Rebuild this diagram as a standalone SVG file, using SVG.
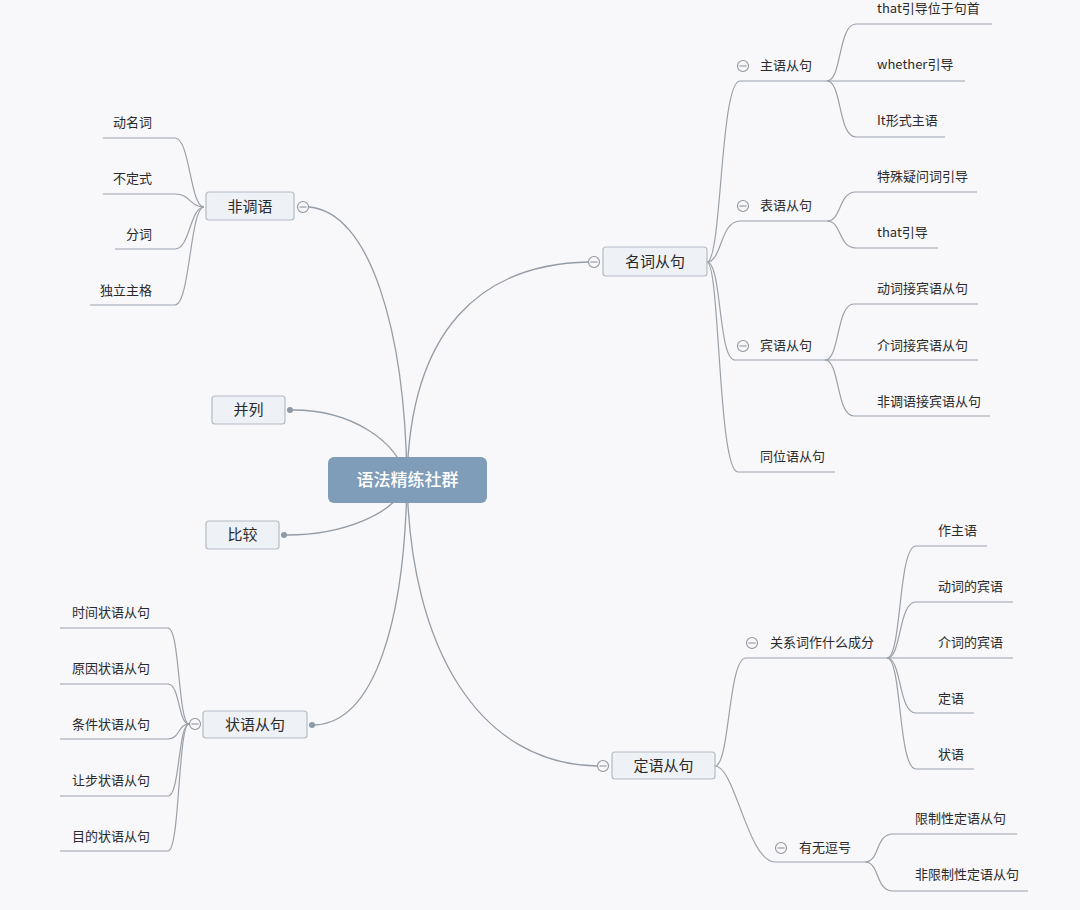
<svg xmlns="http://www.w3.org/2000/svg" width="1080" height="910" viewBox="0 0 1080 910">
<style>
.bg{fill:#f8f7fa}
.ln{fill:none;stroke:#9aa1a9;stroke-width:1.2}
.mln{fill:none;stroke:#949ca5;stroke-width:1.3}
.box{fill:#eef1f6;stroke:#b3bcc6;stroke-width:1.2}
.cbox{fill:#7f9db8}
.t{font-family:"Noto Sans CJK SC","Liberation Sans",sans-serif;fill:#2a2a2a;dominant-baseline:central;transform:translateY(-1.5px)}
.s{font-size:13px}
.m{font-size:15px;text-anchor:middle}
.c{font-size:17px;text-anchor:middle;fill:#fff;font-weight:500}
.e{text-anchor:end}
.col{fill:#f8f7fa;stroke:#8f969e;stroke-width:1.1}
.mi{stroke:#8f969e;stroke-width:1.1}
.dot{fill:#8c99a6}
</style>
<rect class="bg" x="0" y="0" width="1080" height="910"/>
<g id="connectors">
<path class="mln" d="M407,480 C405,330 370,212 309,207"/>
<path class="mln" d="M407,480 C410,330 480,264 589,262"/>
<path class="mln" d="M407,480 C398,440 350,410 293,410"/>
<path class="mln" d="M407,480 C398,515 340,535 287,535"/>
<path class="mln" d="M407,480 C405,620 375,722 315,725"/>
<path class="mln" d="M407,480 C410,650 480,764 597,766"/>
<path class="ln" d="M707,262 C722,262 720,81 740,81 H827"/>
<path class="ln" d="M707,262 C722,262 720,221 740,221 H827"/>
<path class="ln" d="M707,262 C722,262 718,360 735,360 H825"/>
<path class="ln" d="M707,262 C720,262 718,472 738,472 H835"/>
<path class="ln" d="M827,81 C842,81 838,24 856,24 H992"/>
<path class="ln" d="M827,81 H965"/>
<path class="ln" d="M827,81 C842,81 838,137 856,137 H945"/>
<path class="ln" d="M827,221 C842,221 838,192 856,192 H977"/>
<path class="ln" d="M827,221 C842,221 838,248 856,248 H938"/>
<path class="ln" d="M825,360 C840,360 836,304 854,304 H978"/>
<path class="ln" d="M825,360 H978"/>
<path class="ln" d="M825,360 C840,360 836,416 854,416 H990"/>
<path class="ln" d="M715,766 C730,766 728,658 746,658 H887"/>
<path class="ln" d="M715,766 C735,766 748,862 775,862 H865"/>
<path class="ln" d="M887,658 C902,658 898,546 916,546 H987"/>
<path class="ln" d="M887,658 C902,658 898,602 916,602 H1013"/>
<path class="ln" d="M887,658 H1013"/>
<path class="ln" d="M887,658 C902,658 898,713 916,713 H974"/>
<path class="ln" d="M887,658 C902,658 898,769 916,769 H974"/>
<path class="ln" d="M865,862 C880,862 875,834 893,834 H1017"/>
<path class="ln" d="M865,862 C880,862 875,891 893,891 H1028"/>
<path class="ln" d="M204,207 C190,207 190,138 175,138 H103"/>
<path class="ln" d="M204,207 C190,207 190,194 175,194 H103"/>
<path class="ln" d="M204,207 C190,207 190,249 175,249 H115"/>
<path class="ln" d="M204,207 C190,207 190,305 175,305 H90"/>
<path class="ln" d="M189,724 C178,724 180,628 168,628 H60"/>
<path class="ln" d="M189,724 C178,724 180,684 168,684 H60"/>
<path class="ln" d="M189,724 C178,724 180,739 168,739 H60"/>
<path class="ln" d="M189,724 C178,724 180,796 168,796 H60"/>
<path class="ln" d="M189,724 C178,724 180,851 168,851 H60"/>
</g>
<g id="center">
<rect class="cbox" x="328" y="457" width="159" height="46" rx="6"/>
<text class="t c" x="407.5" y="480">语法精练社群</text>
</g>
<g id="n-feiweiyu">
<rect class="box" x="206" y="192" width="88" height="28" rx="3"/>
<text class="t m" x="250" y="206.5">非调语</text>
<circle class="col" cx="303" cy="207" r="5.5"/><line class="mi" x1="299.5" y1="207" x2="306.5" y2="207"/>
</g>
<g id="n-mingci">
<rect class="box" x="603" y="247" width="104" height="29" rx="3"/>
<text class="t m" x="655" y="261.5">名词从句</text>
<circle class="col" cx="594" cy="262" r="5.5"/><line class="mi" x1="590.5" y1="262" x2="597.5" y2="262"/>
</g>
<g id="n-binglie">
<rect class="box" x="212" y="396" width="73" height="28" rx="3"/>
<text class="t m" x="248.5" y="410">并列</text>
<circle class="dot" cx="290" cy="410" r="3"/>
</g>
<g id="n-bijiao">
<rect class="box" x="206" y="521" width="73" height="28" rx="3"/>
<text class="t m" x="242.5" y="535">比较</text>
<circle class="dot" cx="284" cy="535" r="3"/>
</g>
<g id="n-zhuangyu">
<rect class="box" x="203" y="711" width="104" height="27" rx="3"/>
<text class="t m" x="255" y="724.5">状语从句</text>
<circle class="dot" cx="312" cy="725" r="3"/>
<circle class="col" cx="195" cy="724" r="5.5"/><line class="mi" x1="191.5" y1="724" x2="198.5" y2="724"/>
</g>
<g id="n-dingyu">
<rect class="box" x="612" y="752" width="103" height="27" rx="3"/>
<text class="t m" x="663.5" y="765.5">定语从句</text>
<circle class="col" cx="603" cy="766" r="5.5"/><line class="mi" x1="599.5" y1="766" x2="606.5" y2="766"/>
</g>
<g id="fw-leaves">
<text class="t s e" x="152" y="123">动名词</text>
<text class="t s e" x="152" y="179">不定式</text>
<text class="t s e" x="152" y="235">分词</text>
<text class="t s e" x="152" y="291">独立主格</text>
</g>
<g id="zy-leaves">
<text class="t s" x="72" y="613">时间状语从句</text>
<text class="t s" x="72" y="669">原因状语从句</text>
<text class="t s" x="72" y="725">条件状语从句</text>
<text class="t s" x="72" y="781">让步状语从句</text>
<text class="t s" x="72" y="837">目的状语从句</text>
</g>
<g id="n-zhuyu">
<circle class="col" cx="743" cy="66" r="5.5"/><line class="mi" x1="739.5" y1="66" x2="746.5" y2="66"/>
<text class="t s" x="760" y="66">主语从句</text>
</g>
<g id="n-biaoyu">
<circle class="col" cx="743" cy="206" r="5.5"/><line class="mi" x1="739.5" y1="206" x2="746.5" y2="206"/>
<text class="t s" x="760" y="206">表语从句</text>
</g>
<g id="n-binyu">
<circle class="col" cx="743" cy="346" r="5.5"/><line class="mi" x1="739.5" y1="346" x2="746.5" y2="346"/>
<text class="t s" x="760" y="346">宾语从句</text>
</g>
<g id="n-tongwei">
<text class="t s" x="760" y="457">同位语从句</text>
</g>
<g id="mc-leaves">
<text class="t s" x="877" y="9">that引导位于句首</text>
<text class="t s" x="877" y="65">whether引导</text>
<text class="t s" x="877" y="121">It形式主语</text>
<text class="t s" x="877" y="177">特殊疑问词引导</text>
<text class="t s" x="877" y="233">that引导</text>
<text class="t s" x="877" y="289">动词接宾语从句</text>
<text class="t s" x="877" y="346">介词接宾语从句</text>
<text class="t s" x="877" y="402">非调语接宾语从句</text>
</g>
<g id="n-guanxi">
<circle class="col" cx="752" cy="643" r="5.5"/><line class="mi" x1="748.5" y1="643" x2="755.5" y2="643"/>
<text class="t s" x="770" y="643">关系词作什么成分</text>
</g>
<g id="n-douhao">
<circle class="col" cx="781" cy="848" r="5.5"/><line class="mi" x1="777.5" y1="848" x2="784.5" y2="848"/>
<text class="t s" x="799" y="848">有无逗号</text>
</g>
<g id="dy-leaves">
<text class="t s" x="938" y="531">作主语</text>
<text class="t s" x="938" y="587">动词的宾语</text>
<text class="t s" x="938" y="643">介词的宾语</text>
<text class="t s" x="938" y="699">定语</text>
<text class="t s" x="938" y="755">状语</text>
<text class="t s" x="915" y="819">限制性定语从句</text>
<text class="t s" x="915" y="875">非限制性定语从句</text>
</g>
</svg>
